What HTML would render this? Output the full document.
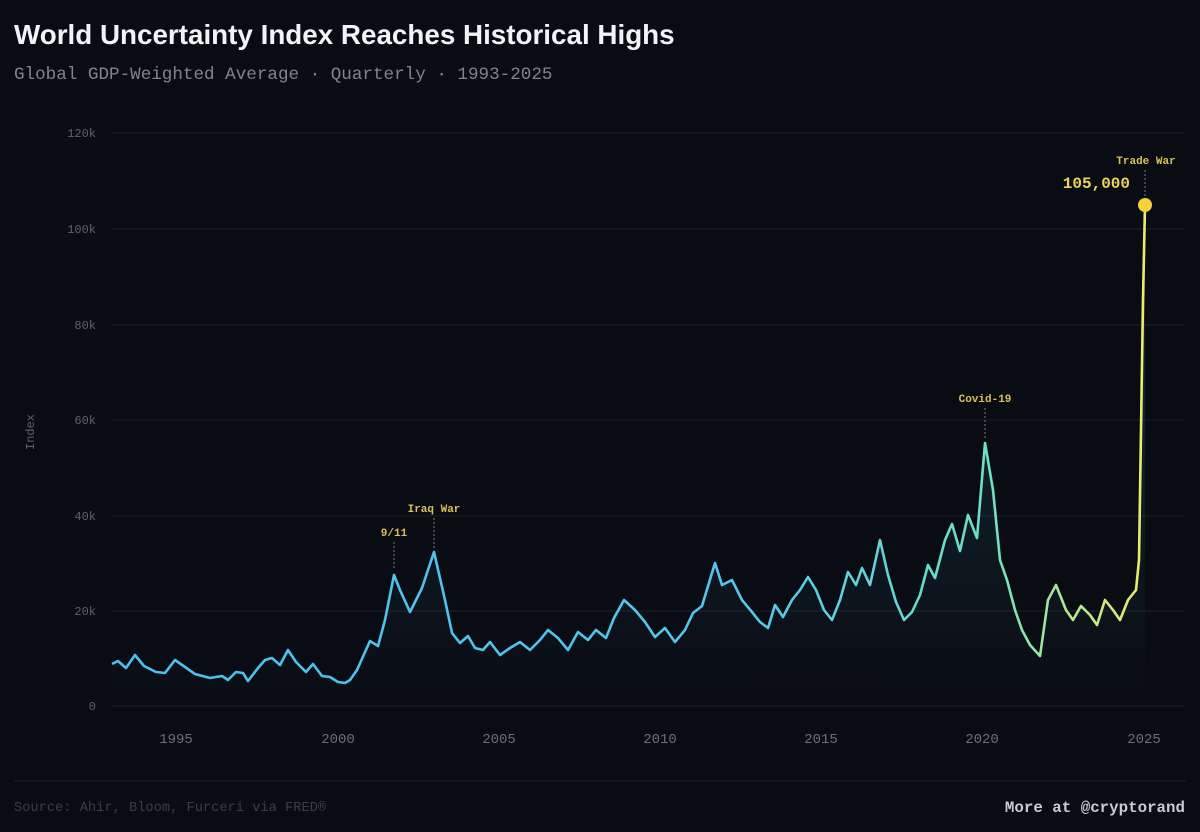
<!DOCTYPE html>
<html><head><meta charset="utf-8"><style>
html,body{margin:0;padding:0;background:#0a0c13;}
body{width:1200px;height:827px;overflow:hidden;position:relative;font-family:"Liberation Sans",sans-serif;}
</style></head><body>
<svg width="1200" height="827" viewBox="0 0 1200 827" xmlns="http://www.w3.org/2000/svg">
<defs>
<linearGradient id="lg" x1="112" y1="0" x2="1145" y2="0" gradientUnits="userSpaceOnUse">
<stop offset="0" stop-color="#4cc0ee"/>
<stop offset="0.6" stop-color="#52c6ec"/>
<stop offset="0.85" stop-color="#6ee0c4"/>
<stop offset="0.93" stop-color="#b4e890"/>
<stop offset="1" stop-color="#ecec6a"/>
</linearGradient>
<linearGradient id="fg" x1="0" y1="400" x2="0" y2="706" gradientUnits="userSpaceOnUse">
<stop offset="0" stop-color="#3ab0d0" stop-opacity="0.14"/>
<stop offset="1" stop-color="#3ab0d0" stop-opacity="0"/>
</linearGradient>
</defs>
<rect width="1200" height="827" fill="#0a0c13"/>
<text x="14" y="44" font-family="Liberation Sans,sans-serif" font-weight="bold" font-size="27.8" fill="#f2f3f5">World Uncertainty Index Reaches Historical Highs</text>
<text x="14" y="79" font-family="Liberation Mono,monospace" font-size="17.6" fill="#80848c">Global GDP-Weighted Average · Quarterly · 1993-2025</text>
<g stroke="#1c2029" stroke-width="1">
<line x1="112" y1="133" x2="1185" y2="133"/><line x1="112" y1="229" x2="1185" y2="229"/>
<line x1="112" y1="325" x2="1185" y2="325"/><line x1="112" y1="420" x2="1185" y2="420"/>
<line x1="112" y1="516" x2="1185" y2="516"/><line x1="112" y1="611" x2="1185" y2="611"/>
<line x1="112" y1="706" x2="1185" y2="706"/>
</g>
<g font-family="Liberation Mono,monospace" font-size="12" fill="#5d626b" text-anchor="end">
<text x="96" y="137">120k</text><text x="96" y="233">100k</text><text x="96" y="329">80k</text>
<text x="96" y="424">60k</text><text x="96" y="520">40k</text><text x="96" y="615">20k</text><text x="96" y="710">0</text>
</g>
<text transform="translate(34,432) rotate(-90)" font-family="Liberation Mono,monospace" font-size="12" fill="#5d626b" text-anchor="middle">Index</text>
<g font-family="Liberation Mono,monospace" font-size="14" fill="#6a6f78" text-anchor="middle">
<text x="176" y="743">1995</text><text x="338" y="743">2000</text><text x="499" y="743">2005</text>
<text x="660" y="743">2010</text><text x="821" y="743">2015</text><text x="982" y="743">2020</text><text x="1144" y="743">2025</text>
</g>
<polygon fill="url(#fg)" points="112,706 112,664 118,661 126,668 135,655 144,666 156,672 165,673 175,660 185,667 195,674 210,678 222,676 228,680 236,672 243,673 248,681 258,668 265,660 272,658 280,665 288,650 296,662 306,672 313,664 322,676 330,677 338,682 345,683 350,680 357,670 370,641 378,646 385,620 394,575 400,590 410,612 422,588 434,552 445,600 452,633 460,643 468,636 475,648 483,650 490,642 500,655 510,648 520,642 530,650 540,640 548,630 558,638 568,650 578,632 588,640 596,630 606,638 614,618 624,600 635,610 645,622 655,637 665,628 675,642 685,630 693,613 702,606 715,563 722,585 732,580 742,600 752,612 760,622 768,628 775,605 783,617 792,600 800,590 808,577 816,590 824,610 832,620 840,600 848,572 856,585 862,568 870,585 880,540 888,575 896,602 904,620 912,612 920,595 928,565 935,578 945,540 952,524 960,551 968,515 977,538 985,443 993,490 1000,560 1007,580 1015,610 1022,630 1030,645 1040,656 1048,600 1056,585 1066,610 1073,620 1081,606 1090,615 1097,625 1105,600 1113,610 1120,620 1128,600 1136,590 1139,560 1143,300 1145,205 1145,706"/>
<polyline fill="none" stroke="url(#lg)" stroke-width="2.6" stroke-linejoin="round" points="112,664 118,661 126,668 135,655 144,666 156,672 165,673 175,660 185,667 195,674 210,678 222,676 228,680 236,672 243,673 248,681 258,668 265,660 272,658 280,665 288,650 296,662 306,672 313,664 322,676 330,677 338,682 345,683 350,680 357,670 370,641 378,646 385,620 394,575 400,590 410,612 422,588 434,552 445,600 452,633 460,643 468,636 475,648 483,650 490,642 500,655 510,648 520,642 530,650 540,640 548,630 558,638 568,650 578,632 588,640 596,630 606,638 614,618 624,600 635,610 645,622 655,637 665,628 675,642 685,630 693,613 702,606 715,563 722,585 732,580 742,600 752,612 760,622 768,628 775,605 783,617 792,600 800,590 808,577 816,590 824,610 832,620 840,600 848,572 856,585 862,568 870,585 880,540 888,575 896,602 904,620 912,612 920,595 928,565 935,578 945,540 952,524 960,551 968,515 977,538 985,443 993,490 1000,560 1007,580 1015,610 1022,630 1030,645 1040,656 1048,600 1056,585 1066,610 1073,620 1081,606 1090,615 1097,625 1105,600 1113,610 1120,620 1128,600 1136,590 1139,560 1143,300 1145,205"/>
<g stroke="#777" stroke-width="1" stroke-dasharray="2,2">
<line x1="394" y1="542" x2="394" y2="570"/><line x1="434" y1="518" x2="434" y2="548"/>
<line x1="985" y1="408" x2="985" y2="438"/><line x1="1145" y1="170" x2="1145" y2="198"/>
</g>
<g font-family="Liberation Mono,monospace" font-weight="bold" font-size="11" fill="#d9bf5c" text-anchor="middle">
<text x="394" y="536">9/11</text><text x="434" y="512">Iraq War</text>
<text x="985" y="402">Covid-19</text><text x="1146" y="164">Trade War</text>
</g>
<text x="1130" y="188" font-family="Liberation Mono,monospace" font-weight="bold" font-size="16" fill="#efd45a" text-anchor="end">105,000</text>
<circle cx="1145" cy="205" r="7" fill="#f5d13a"/>
<line x1="14" y1="781" x2="1186" y2="781" stroke="#1c2029" stroke-width="1"/>
<text x="14" y="811" font-family="Liberation Mono,monospace" font-size="13.7" fill="#3a3e46">Source: Ahir, Bloom, Furceri via FRED®</text>
<text x="1185" y="812" font-family="Liberation Mono,monospace" font-weight="bold" font-size="15.8" fill="#c8cbd0" text-anchor="end">More at @cryptorand</text>
</svg>
</body></html>
